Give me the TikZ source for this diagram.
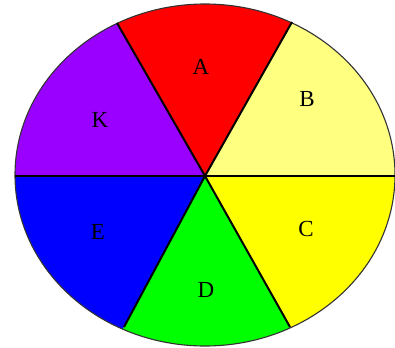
\documentclass[tikz,border=0pt]{standalone}
\usepackage{fontspec}
\setmainfont{Liberation Serif}
\definecolor{cA}{RGB}{255,0,0}
\definecolor{cB}{RGB}{255,255,128}
\definecolor{cC}{RGB}{255,255,0}
\definecolor{cD}{RGB}{0,255,0}
\definecolor{cE}{RGB}{0,0,255}
\definecolor{cK}{RGB}{153,0,255}
\begin{document}
\begin{tikzpicture}[x=1pt,y=-1pt,
  spoke/.style={line width=2pt,black},
  lbl/.style={inner sep=0pt,font=\fontsize{23}{23}\selectfont}]
\useasboundingbox (0,0) rectangle (395,347);
\coordinate (hub) at (205,176);
\coordinate (pAK) at (117,23);
\coordinate (pAB) at (292,22);
\coordinate (pCD) at (290,327);
\coordinate (pDE) at (124,327);
\coordinate (pL) at (15,176);
\coordinate (pR) at (395,176);
\begin{scope}
\clip (205,175) ellipse [x radius=190, y radius=171];
\fill[cA] (hub) -- (98,-10) -- (310,-10) -- cycle;
\fill[cB] (hub) -- (310,-10) -- (420,-10) -- (420,176) -- cycle;
\fill[cC] (hub) -- (420,176) -- (420,360) -- (309,360) -- cycle;
\fill[cD] (hub) -- (309,360) -- (106,360) -- cycle;
\fill[cE] (hub) -- (106,360) -- (-10,360) -- (-10,176) -- cycle;
\fill[cK] (hub) -- (-10,176) -- (-10,-10) -- (98,-10) -- cycle;
\end{scope}
\draw[line width=1.1pt,black!80] (205,175) ellipse [x radius=190, y radius=171];
\draw[spoke] (pL) -- (pR);
\draw[spoke] (hub) -- (pAK);
\draw[spoke] (hub) -- (pAB);
\draw[spoke] (hub) -- (pCD);
\draw[spoke] (hub) -- (pDE);
\node[lbl] (A) at (201,67) {A};
\node[lbl] (B) at (307,99) {B};
\node[lbl] (C) at (306,229) {C};
\node[lbl] (D) at (206,290) {D};
\node[lbl] (E) at (98,232) {E};
\node[lbl] (K) at (100,120) {K};
\end{tikzpicture}
\end{document}
